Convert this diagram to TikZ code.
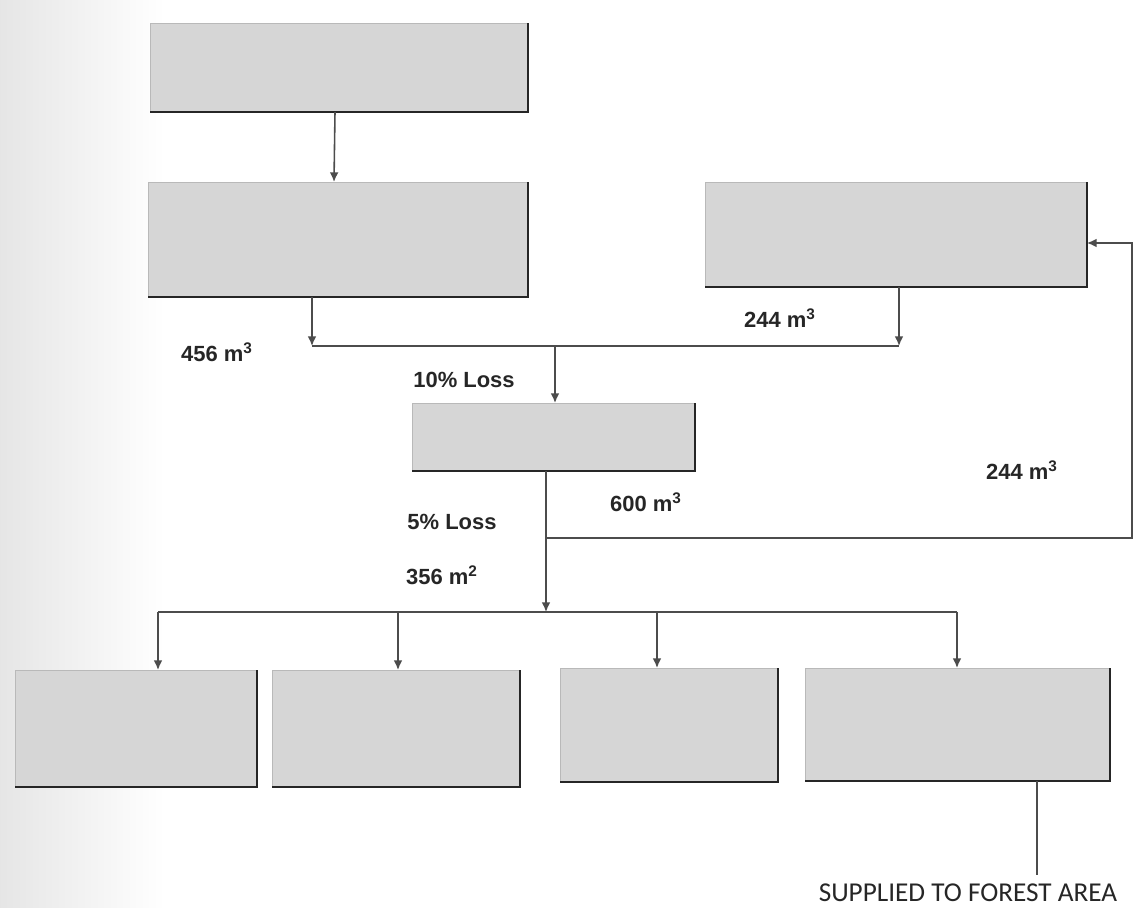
\documentclass[tikz,border=0pt]{standalone}
\usepackage{fontspec}
\setmainfont{Liberation Sans}
\newfontfamily\capsfont{Carlito}
\usetikzlibrary{arrows.meta}
\begin{document}
\begin{tikzpicture}[x={(0.02cm,0cm)},y={(0cm,-0.02cm)},
  panel/.style={fill=gray!32, draw=gray!55, line width=0.3pt, inner sep=0pt, outer sep=0pt},
  edge/.style={line width=1.6pt, black!85},
  link/.style={line width=0.9pt, black!70},
  flow/.style={link, -{Latex[length=5.5pt,width=5pt]}},
  qty/.style={font=\bfseries\fontsize{12.5}{14}\selectfont, text=black!85, inner sep=0pt}]
\useasboundingbox (0,0) rectangle (1143,908);
\shade[left color=gray!20, right color=white] (0,0) rectangle (165,908);
% boxes
\node[panel, minimum width=7.56cm, minimum height=1.78cm] (src) at (339,67.5) {};
\node[panel, minimum width=7.6cm, minimum height=2.3cm] (stage) at (338,239.5) {};
\node[panel, minimum width=7.64cm, minimum height=2.1cm] (side) at (896,234.5) {};
\node[panel, minimum width=5.66cm, minimum height=1.36cm] (mix) at (553.5,437) {};
\node[panel, minimum width=4.84cm, minimum height=2.34cm] (u1) at (136,728.5) {};
\node[panel, minimum width=4.96cm, minimum height=2.34cm] (u2) at (396,728.5) {};
\node[panel, minimum width=4.36cm, minimum height=2.28cm] (u3) at (669,725) {};
\node[panel, minimum width=6.1cm, minimum height=2.26cm] (u4) at (957.5,724.5) {};
\foreach \n in {src,stage,side,mix,u1,u2,u3,u4}
  \draw[edge] (\n.south west) -- (\n.south east) -- (\n.north east);
% junctions
\coordinate (jB) at (312,346);
\coordinate (jC) at (899,346);
\coordinate (jD) at (555,346);
\coordinate (tee) at (546,538);
\coordinate (split) at (546,612);
\foreach \n/\x in {u1/158,u2/398,u3/657,u4/957}
  \coordinate (t\n) at (\x,612);
% connectors
\draw[flow] ([xshift=-0.08cm]src.south) -- ([xshift=-0.08cm]stage.north);
\draw[link] (jB) -- (jC);
\draw[flow] (stage.south -| jB) -- (jB);
\draw[flow] (side.south -| jC) -- (jC);
\draw[flow] (jD) -- (mix.north -| jD);
\draw[flow] (mix.south -| tee) -- (split);
\draw[flow] (tee) -| ([xshift=0.9cm,yshift=-0.17cm]side.east) -- ([yshift=-0.17cm]side.east);
\draw[link] (tu1) -- (tu4);
\foreach \n in {u1,u2,u3,u4}
  \draw[flow] (t\n) -- (\n.north -| t\n);
\coordinate (hout) at ([xshift=1.59cm]u4.south);
\node[font=\capsfont\fontsize{15.5}{17}\selectfont, text=black!85, inner sep=0pt] (supply) at (968,893) {SUPPLIED TO FOREST AREA};
\draw[link] (hout) -- ([yshift=0.18cm]hout |- supply.north);
% quantities
\node[qty] (q456) at (217,352) {456 m\textsuperscript{3}};
\node[qty] (q244a) at (780,318) {244 m\textsuperscript{3}};
\node[qty] (loss10) at (464,380) {10\% Loss};
\node[qty] (q600) at (646,502) {600 m\textsuperscript{3}};
\node[qty] (loss5) at (452,522) {5\% Loss};
\node[qty] (q356) at (442,575) {356 m\textsuperscript{2}};
\node[qty] (q244b) at (1022,470) {244 m\textsuperscript{3}};
\end{tikzpicture}
\end{document}
